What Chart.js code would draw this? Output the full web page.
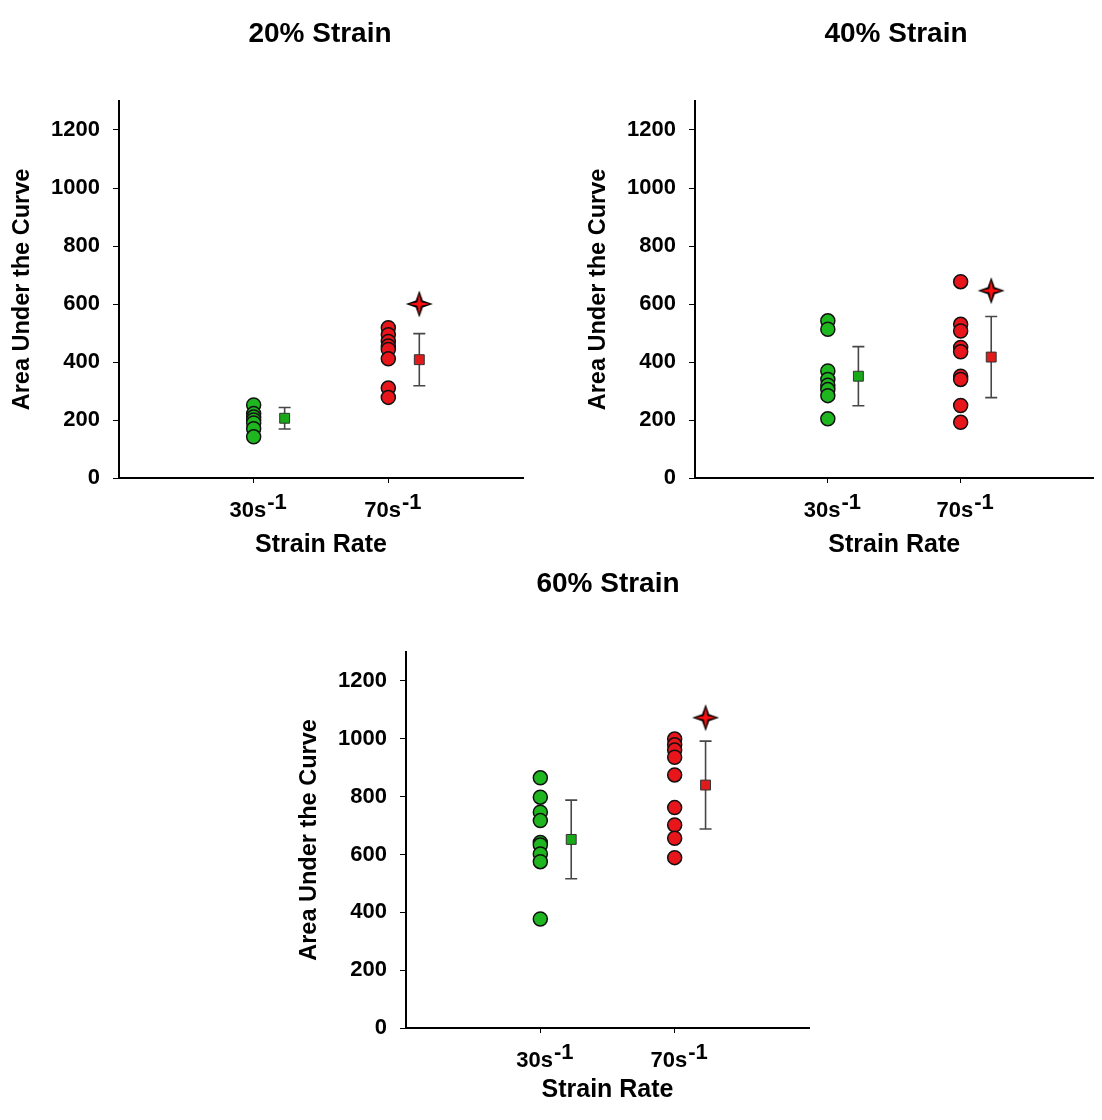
<!DOCTYPE html>
<html>
<head>
<meta charset="utf-8">
<script src="https://cdn.jsdelivr.net/npm/chart.js@4.4.1/dist/chart.umd.min.js"></script>
<style>
  body { margin: 0; background: #fff; width: 1102px; height: 1120px; position: relative; overflow: hidden;
         font-family: 'Liberation Sans', Arial, sans-serif; }
  .panel { position: absolute; }
  .ptitle { position: absolute; width: 300px; text-align: center; font-weight: bold; font-size: 28px;
            line-height: 34px; color: #000; z-index: 2; }
</style>
</head>
<body>
<div class="panel" style="left:0;top:0;width:551px;height:560px"><canvas id="c20"></canvas></div>
<div class="panel" style="left:576px;top:0;width:526px;height:560px"><canvas id="c40"></canvas></div>
<div class="panel" style="left:287px;top:560px;width:551px;height:560px"><canvas id="c60"></canvas></div>
<div class="ptitle" style="left:170px;top:16px">20% Strain</div>
<div class="ptitle" style="left:746px;top:16px">40% Strain</div>
<div class="ptitle" style="left:458px;top:566px">60% Strain</div>
<script>
// ---- data ----
const rateX = [1, 2];            // 30 s-1, 70 s-1
const meanX = [1.23, 2.23];      // mean +/- SD drawn just right of each group
const xLabels = ['30s', '70s'];
const xSup = '-1';

// 20% strain
const green20 = [252, 222, 210, 200, 190, 170, 142];
const red20 = [518, 494, 471, 455, 443, 411, 310, 278];
const means20 = [206, 408];
const sds20 = [37, 90];
const star20 = 600;

// 40% strain
const green40 = [542, 513, 369, 340, 320, 305, 284, 204];
const red40 = [677, 530, 507, 450, 435, 351, 340, 250, 192];
const means40 = [351, 417];
const sds40 = [102, 140];
const star40 = 646;

// 60% strain
const green60 = [865, 798, 746, 717, 641, 633, 602, 575, 377];
const red60 = [999, 979, 961, 936, 875, 762, 702, 656, 589];
const means60 = [652, 840];
const sds60 = [136, 152];
const star60 = 1073;

const FONT = "'Liberation Sans', Arial, sans-serif";
Chart.defaults.font.family = FONT;
Chart.defaults.color = '#000';

// 4-pointed star marker
function makeStar() {
  const c = document.createElement('canvas');
  c.width = 30; c.height = 30;
  const g = c.getContext('2d');
  function star(R, r, color) {
    g.beginPath();
    for (let i = 0; i < 8; i++) {
      const a = -Math.PI / 2 + i * Math.PI / 4;
      const rad = i % 2 === 0 ? R : r;
      g.lineTo(15 + rad * Math.cos(a), 15 + rad * Math.sin(a));
    }
    g.closePath();
    g.fillStyle = color;
    g.fill();
  }
  star(13.5, 5, '#000');
  star(10.5, 2.6, '#ff1010');
  return c;
}
const starImg = makeStar();

// error bars under the mean squares
const errorBars = {
  id: 'errorBars',
  beforeDatasetsDraw(chart) {
    const ctx = chart.ctx;
    const xs = chart.scales.x, ys = chart.scales.y;
    ctx.save();
    ctx.strokeStyle = '#474747';
    ctx.lineWidth = 1.6;
    chart.data.datasets.forEach(ds => {
      if (!ds.sd) return;
      ds.data.forEach((p, i) => {
        const x = xs.getPixelForValue(p.x);
        const yt = ys.getPixelForValue(p.y + ds.sd[i]);
        const yb = ys.getPixelForValue(p.y - ds.sd[i]);
        ctx.beginPath();
        ctx.moveTo(x, yt); ctx.lineTo(x, yb);
        ctx.moveTo(x - 6, yt); ctx.lineTo(x + 6, yt);
        ctx.moveTo(x - 6, yb); ctx.lineTo(x + 6, yb);
        ctx.stroke();
      });
    });
    ctx.restore();
  }
};

// x tick labels with superscript
const rateLabels = {
  id: 'rateLabels',
  afterDraw(chart) {
    const ctx = chart.ctx, xs = chart.scales.x;
    ctx.save();
    ctx.fillStyle = '#000';
    ctx.font = 'bold 22px ' + FONT;
    ctx.textAlign = 'left';
    ctx.textBaseline = 'alphabetic';
    const base = chart.chartArea.bottom + 39;
    rateX.forEach((v, i) => {
      const w1 = ctx.measureText(xLabels[i]).width;
      const w2 = ctx.measureText(xSup).width;
      const left = xs.getPixelForValue(v) + 4 - (w1 + w2) / 2;
      ctx.fillText(xLabels[i], left, base);
      ctx.fillText(xSup, left + w1 + 1, base - 8);
    });
    ctx.restore();
  }
};

function pts(x, values) {
  return values.map(v => ({ x: x, y: v }));
}

function makePanel(id, green, red, means, sds, star, box) {
  return new Chart(document.getElementById(id), {
    type: 'scatter',
    data: {
      datasets: [
        { data: pts(rateX[0], green), backgroundColor: '#1fb71f', borderColor: '#111', borderWidth: 1.5, pointRadius: 7 },
        { data: pts(rateX[1], red), backgroundColor: '#e8161b', borderColor: '#111', borderWidth: 1.5, pointRadius: 7 },
        { data: [{ x: meanX[0], y: means[0] }], sd: [sds[0]], pointStyle: 'rect', pointRadius: 7,
          backgroundColor: '#18a818', borderColor: '#333', borderWidth: 1 },
        { data: [{ x: meanX[1], y: means[1] }], sd: [sds[1]], pointStyle: 'rect', pointRadius: 7,
          backgroundColor: '#e01b1b', borderColor: '#333', borderWidth: 1 },
        { data: [{ x: meanX[1], y: star }], pointStyle: starImg }
      ]
    },
    options: {
      responsive: true,
      maintainAspectRatio: false,
      animation: false,
      events: [],
      layout: { padding: { left: 0, top: box.top, right: box.right, bottom: 0 } },
      plugins: { legend: { display: false }, tooltip: { enabled: false } },
      scales: {
        x: {
          type: 'linear', min: 0, max: 3,
          afterBuildTicks: s => { s.ticks = rateX.map(v => ({ value: v })); },
          afterFit: s => { s.height = box.xh; },
          ticks: { display: false },
          grid: { drawOnChartArea: false, drawTicks: true, tickLength: 5, color: '#000', lineWidth: 1 },
          border: { color: '#000', width: 2 },
          title: { display: true, text: 'Strain Rate', font: { size: 25, weight: 'bold' },
                   padding: { top: 0, bottom: box.titlePad } }
        },
        y: {
          min: 0, max: 1300,
          afterFit: s => { s.width = 119; },
          ticks: { stepSize: 200, includeBounds: false, padding: 13, font: { size: 22, weight: 'bold' },
                   callback: v => String(v) },
          grid: { drawOnChartArea: false, drawTicks: true, tickLength: 6, color: '#000', lineWidth: 1 },
          border: { color: '#000', width: 2 },
          title: { display: true, text: 'Area Under the Curve', font: { size: 23.5, weight: 'bold' },
                   padding: { top: 8, bottom: 0 } }
        }
      }
    },
    plugins: [errorBars, rateLabels]
  });
}

makePanel('c20', green20, red20, means20, sds20, star20, { top: 101, right: 28, xh: 82, titlePad: 0 });
makePanel('c40', green40, red40, means40, sds40, star40, { top: 101, right: 4, xh: 82, titlePad: 0 });
makePanel('c60', green60, red60, means60, sds60, star60, { top: 92, right: 29, xh: 92, titlePad: 15 });
</script>
</body>
</html>
